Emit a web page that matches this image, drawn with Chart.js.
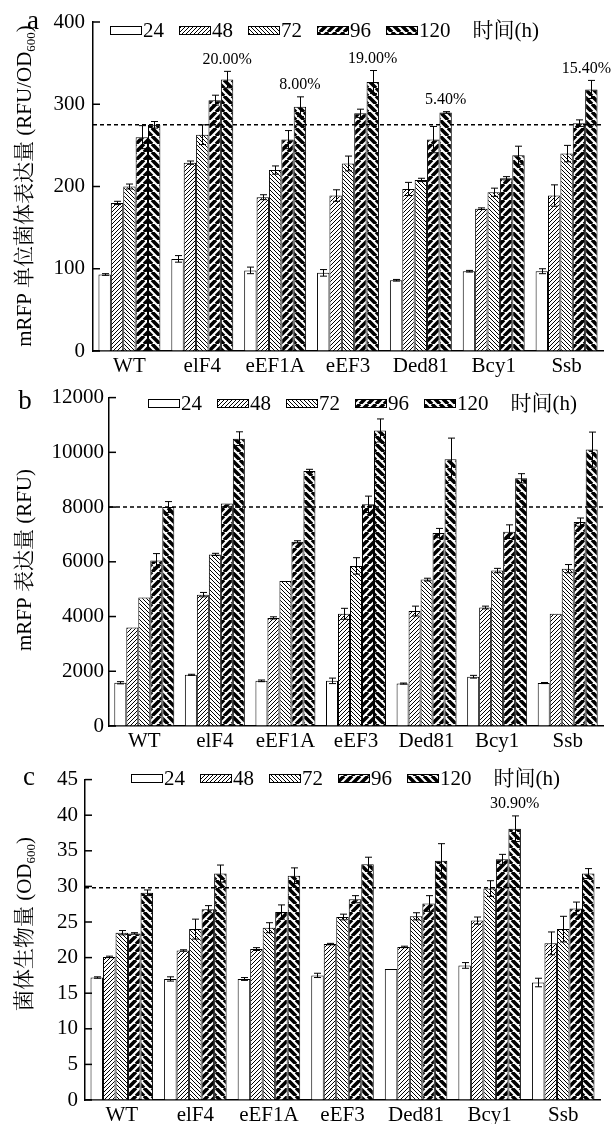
<!DOCTYPE html>
<html>
<head>
<meta charset="utf-8">
<script src="https://cdn.jsdelivr.net/npm/chart.js@4.4.0/dist/chart.umd.min.js"></script>
<style>
html, body { margin: 0; padding: 0; background: #fff; }
#wrap { position: relative; width: 614px; height: 1124px; }
.panel { position: absolute; left: 0; width: 614px; }
</style>
</head>
<body>
<div id="wrap">
  <div class="panel" style="top:0;height:380px"><canvas id="chartA"></canvas></div>
  <div class="panel" style="top:380px;height:380px"><canvas id="chartB"></canvas></div>
  <div class="panel" style="top:760px;height:364px"><canvas id="chartC"></canvas></div>
</div>
<script>
var categories = ['WT', 'elF4', 'eEF1A', 'eEF3', 'Ded81', 'Bcy1', 'Ssb'];
var hours = ['24', '48', '72', '96', '120'];

// a: mRFP per cell (RFU/OD600), one row per time point
var aMeans = [
    [93, 112, 98, 95, 86, 97, 97],
    [180, 229, 187, 189, 197, 173, 189],
    [200, 263, 220, 228, 208, 193, 240],
    [260, 305, 257, 289, 257, 210, 277],
    [275, 330, 297, 327, 290, 238, 318]
];
var aErrs = [
    [1, 4, 4, 4, 1, 1, 3],
    [2, 2, 3, 7, 8, 1, 13],
    [3, 12, 5, 9, 2, 5, 10],
    [14, 6, 11, 5, 16, 2, 4],
    [4, 10, 12, 14, 1, 11, 11]
];
var aPct = ['', '20.00%', '8.00%', '19.00%', '5.40%', '', '15.40%'];
var aRef = 275;

// b: mRFP (RFU)
var bMeans = [
    [1580, 1870, 1650, 1650, 1550, 1800, 1570],
    [3600, 4800, 3950, 4100, 4200, 4330, 4100],
    [4700, 6270, 5300, 5850, 5350, 5680, 5750],
    [6050, 8130, 6730, 8100, 7050, 7100, 7450],
    [8000, 10500, 9320, 10800, 9750, 9050, 10100]
];
var bErrs = [
    [40, 20, 30, 100, 20, 50, 20],
    [0, 80, 40, 200, 180, 50, 0],
    [0, 40, 0, 300, 50, 80, 150],
    [250, 0, 40, 300, 170, 250, 150],
    [200, 250, 60, 420, 770, 170, 640]
];
var bPct = ['', '', '', '', '', '', ''];
var bRef = 8000;

// c: biomass (OD600)
var cMeans = [
    [17.2, 17.0, 17.0, 17.5, 18.4, 18.9, 16.5],
    [20.1, 21.0, 21.2, 21.9, 21.5, 25.2, 22.0],
    [23.5, 24.0, 24.2, 25.7, 25.8, 29.7, 24.0],
    [23.4, 26.8, 26.4, 28.2, 27.6, 33.8, 26.9],
    [29.1, 31.8, 31.5, 33.1, 33.6, 38.1, 31.8]
];
var cErrs = [
    [0.1, 0.3, 0.2, 0.3, 0, 0.4, 0.6],
    [0.1, 0.1, 0.2, 0.1, 0.1, 0.5, 1.6],
    [0.3, 1.4, 0.7, 0.4, 0.5, 1.1, 1.8],
    [0.1, 0.5, 1.0, 0.5, 1.1, 0.7, 0.9],
    [0.4, 1.2, 1.1, 1.0, 2.4, 1.8, 0.7]
];
var cPct = ['', '', '', '', '', '30.90%', ''];
var cRef = 29.8;

var SERIF = "'Liberation Serif', 'Times New Roman', 'Noto Serif CJK SC', 'Noto Sans CJK SC', serif";
Chart.defaults.font.family = SERIF;
Chart.defaults.font.size = 21;
Chart.defaults.color = '#000';

// hatch fill: dir 0 = blank, 1 = "/", -1 = "\"
function hatch(ctx, dir, gap, lw) {
    var c = document.createElement('canvas');
    c.width = gap; c.height = gap;
    var g = c.getContext('2d');
    g.fillStyle = '#fff';
    g.fillRect(0, 0, gap, gap);
    if (dir != 0) {
        g.strokeStyle = '#000';
        g.lineWidth = lw;
        g.beginPath();
        for (var k = -1; k <= 1; k++) {
            if (dir > 0) { g.moveTo(k * gap, gap); g.lineTo(k * gap + gap, 0); }
            else { g.moveTo(k * gap, 0); g.lineTo(k * gap + gap, gap); }
        }
        g.stroke();
    }
    return ctx.createPattern(c, 'repeat');
}

function fills(ctx) {
    return [
        '#fff',
        hatch(ctx, 1, 4, 1),
        hatch(ctx, -1, 4, 1),
        hatch(ctx, 1, 8, 3.6),
        hatch(ctx, -1, 8, 3.6)
    ];
}

var decoPlugin = {
    id: 'deco',
    afterDatasetsDraw: function (chart) {
        var o = chart.options.plugins.deco, ctx = chart.ctx;
        var ys = chart.scales.y, area = chart.chartArea;
        ctx.save();
        // error bars
        ctx.strokeStyle = '#000';
        ctx.lineWidth = 1;
        for (var d = 0; d < o.means.length; d++) {
            var meta = chart.getDatasetMeta(d);
            for (var i = 0; i < meta.data.length; i++) {
                var e = o.errs[d][i];
                if (!e) continue;
                var x = Math.round(meta.data[i].x) + 0.5;
                var yt = ys.getPixelForValue(o.means[d][i] + e);
                var yb = ys.getPixelForValue(o.means[d][i] - e);
                ctx.beginPath();
                ctx.moveTo(x, yt); ctx.lineTo(x, yb);
                ctx.moveTo(x - 3.5, yt); ctx.lineTo(x + 3.5, yt);
                ctx.moveTo(x - 3.5, yb); ctx.lineTo(x + 3.5, yb);
                ctx.stroke();
            }
        }
        // reference line
        var yr = ys.getPixelForValue(o.ref);
        ctx.setLineDash([4, 3]);
        ctx.lineWidth = 1.5;
        ctx.beginPath();
        ctx.moveTo(area.left, yr); ctx.lineTo(area.right, yr);
        ctx.stroke();
        ctx.setLineDash([]);
        // percentage labels on the 120 h bars
        var last = o.means.length - 1, m = chart.getDatasetMeta(last);
        ctx.font = '16px ' + SERIF;
        ctx.fillStyle = '#000';
        ctx.textAlign = 'center';
        ctx.textBaseline = 'bottom';
        for (var j = 0; j < o.pct.length; j++) {
            if (!o.pct[j]) continue;
            var w = ctx.measureText(o.pct[j]).width;
            var tx = Math.min(m.data[j].x, chart.width - w / 2 - 3);
            var ty = ys.getPixelForValue(o.means[last][j] + o.errs[last][j]) - 4;
            ctx.fillText(o.pct[j], tx, ty);
        }
        ctx.restore();
    },
    afterDraw: function (chart) {
        var o = chart.options.plugins.deco, ctx = chart.ctx;
        var ys = chart.scales.y, area = chart.chartArea;
        ctx.save();
        // inward ticks
        ctx.strokeStyle = '#000';
        ctx.lineWidth = 1.5;
        ys.ticks.forEach(function (t) {
            var y = ys.getPixelForValue(t.value);
            ctx.beginPath();
            ctx.moveTo(area.left, y); ctx.lineTo(area.left + 7, y);
            ctx.stroke();
        });
        // legend
        var fl = chart.data.datasets;
        var x = o.legendX, y = o.legendY;
        ctx.font = '21px ' + SERIF;
        ctx.textBaseline = 'middle';
        ctx.textAlign = 'left';
        ctx.lineWidth = 1;
        for (var k = 0; k < fl.length; k++) {
            ctx.fillStyle = fl[k].backgroundColor;
            ctx.fillRect(x, y - 4, 31, 8);
            ctx.strokeRect(x + 0.5, y - 3.5, 31, 8);
            ctx.fillStyle = '#000';
            ctx.fillText(fl[k].label, x + 33, y + 1);
            x += 33 + ctx.measureText(fl[k].label).width + 15;
        }
        ctx.fillText('时间(h)', x + 7, y + 1);
        // panel letter
        ctx.font = '27px ' + SERIF;
        ctx.textAlign = 'center';
        ctx.fillText(o.letter, o.letterX, o.letterY);
        // rotated axis title with subscript
        ctx.translate(24, o.titleY);
        ctx.rotate(-Math.PI / 2);
        var big = '21px ' + SERIF, small = '13px ' + SERIF;
        var parts = o.title, total = 0, widths = [];
        for (var p = 0; p < parts.length; p++) {
            ctx.font = (p == 1) ? small : big;
            widths[p] = ctx.measureText(parts[p]).width;
            total += widths[p];
        }
        var px = -total / 2;
        ctx.textAlign = 'left';
        ctx.textBaseline = 'alphabetic';
        for (p = 0; p < parts.length; p++) {
            ctx.font = (p == 1) ? small : big;
            ctx.fillText(parts[p], px, (p == 1) ? 11 : 7);
            px += widths[p];
        }
        ctx.restore();
    }
};

function makeChart(id, cfg) {
    var canvas = document.getElementById(id);
    var ctx = canvas.getContext('2d');
    var f = fills(ctx);
    var datasets = [];
    for (var d = 0; d < hours.length; d++) {
        datasets.push({
            label: hours[d],
            data: cfg.means[d],
            backgroundColor: f[d],
            borderColor: '#000',
            borderWidth: 1,
            categoryPercentage: 0.85,
            barPercentage: 1.0
        });
    }
    return new Chart(ctx, {
        type: 'bar',
        data: { labels: categories, datasets: datasets },
        options: {
            responsive: true,
            maintainAspectRatio: false,
            animation: false,
            layout: { padding: { top: cfg.top, right: cfg.right, left: 0, bottom: 0 } },
            plugins: {
                legend: { display: false },
                tooltip: { enabled: false },
                deco: {
                    means: cfg.means, errs: cfg.errs, pct: cfg.pct, ref: cfg.ref,
                    title: cfg.title, titleY: cfg.titleY,
                    letter: cfg.letter, letterX: cfg.letterX, letterY: cfg.letterY,
                    legendX: cfg.legendX, legendY: cfg.legendY
                }
            },
            scales: {
                x: {
                    grid: { display: true, drawOnChartArea: false, drawTicks: false },
                    border: { display: true, color: '#000', width: 1.5 },
                    ticks: { padding: cfg.xPad, font: { size: 21 }, maxRotation: 0, autoSkip: false },
                    afterFit: function (s) { s.height = cfg.xHeight; }
                },
                y: {
                    min: 0, max: cfg.max,
                    grid: { display: true, drawOnChartArea: false, drawTicks: false },
                    border: { display: true, color: '#000', width: 1.5 },
                    ticks: {
                        stepSize: cfg.step, padding: cfg.yPad, font: { size: 21 },
                        callback: function (v) { return String(v); }
                    },
                    afterFit: function (s) { s.width = cfg.axisX; }
                }
            }
        },
        plugins: [decoPlugin]
    });
}

makeChart('chartA', {
    means: aMeans, errs: aErrs, pct: aPct, ref: aRef, max: 400, step: 100,
    top: 22, right: 11, axisX: 93, xHeight: 29, xPad: 3, yPad: 8,
    title: ['mRFP 单位菌体表达量 (RFU/OD', '600', ')'], titleY: 186,
    letter: 'a', letterX: 33, letterY: 22, legendX: 110, legendY: 30
});
makeChart('chartB', {
    means: bMeans, errs: bErrs, pct: bPct, ref: bRef, max: 12000, step: 2000,
    top: 15, right: 11, axisX: 109, xHeight: 34, xPad: 3, yPad: 5,
    title: ['mRFP 表达量 (RFU)'], titleY: 180,
    letter: 'b', letterX: 25, letterY: 22, legendX: 148, legendY: 23
});
makeChart('chartC', {
    means: cMeans, errs: cErrs, pct: cPct, ref: cRef, max: 45, step: 5,
    top: 12, right: 14, axisX: 85, xHeight: 24, xPad: 3, yPad: 7,
    title: ['菌体生物量 (OD', '600', ')'], titleY: 164,
    letter: 'c', letterX: 29, letterY: 18, legendX: 131, legendY: 18
});
</script>
</body>
</html>
